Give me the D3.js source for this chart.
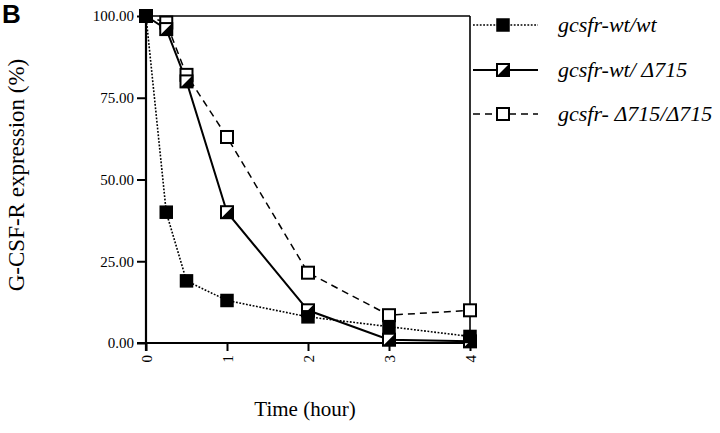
<!DOCTYPE html>
<html><head><meta charset="utf-8">
<script src="https://cdn.jsdelivr.net/npm/d3@7"></script>
<style>body{margin:0;background:#fff}svg{display:block}.serif{font-family:'Liberation Serif','Times New Roman',serif}</style>
</head><body>
<script>
const times = [0, 0.25, 0.5, 1, 2, 3, 4];
const wtwt = [100, 40, 19, 13, 8, 5, 2];
const wtD715 = [100, 96, 80, 40, 10, 1, 0.5];
const D715D715 = [100, 98, 82, 63, 21.5, 8.5, 10];
const seriesNames = ["gcsfr-wt/wt", "gcsfr-wt/ Δ715", "gcsfr- Δ715/Δ715"];
const yTicks = [0, 25, 50, 75, 100];
const xTicks = [0, 1, 2, 3, 4];

const W = 720, H = 433;
const svg = d3.select("body").append("svg").attr("width", W).attr("height", H);
const x = d3.scaleLinear().domain([0, 4]).range([146, 470]);
const y = d3.scaleLinear().domain([0, 100]).range([343, 16]);

const series = [
  {name: seriesNames[0], vals: wtwt, dash: "1.8,1.6", width: 1.6, marker: "filled"},
  {name: seriesNames[1], vals: wtD715, dash: null, width: 2, marker: "half"},
  {name: seriesNames[2], vals: D715D715, dash: "7,5", width: 1.5, marker: "open"}
];

svg.append("line").attr("x1", x(0)).attr("x2", x(4)).attr("y1", y(100)).attr("y2", y(100)).attr("stroke", "#000").attr("stroke-width", 1.6);
svg.append("line").attr("x1", x(4)).attr("x2", x(4)).attr("y1", y(100)).attr("y2", y(0)).attr("stroke", "#000").attr("stroke-width", 1.6);

const yAxis = svg.append("g").attr("transform", `translate(${x(0)},0)`)
  .call(d3.axisLeft(y).tickValues(yTicks).tickFormat(d3.format(".2f")).tickSize(9).tickPadding(3));
const xAxis = svg.append("g").attr("transform", `translate(0,${y(0)})`)
  .call(d3.axisBottom(x).tickValues(xTicks).tickFormat(d3.format("d")).tickSize(8).tickPadding(3));
[yAxis, xAxis].forEach(g => {
  g.attr("font-family", null);
  g.select(".domain").attr("stroke-width", 2.2);
  g.selectAll(".tick line").attr("stroke-width", 2);
  g.selectAll("text").attr("class", "serif").attr("font-size", 15).attr("fill", "#000");
});
yAxis.select(".domain").attr("d", `M0,${y(100)}V${y(0) + 8}`);
xAxis.select(".domain").attr("d", `M${x(0) - 9},0H${x(4)}`);
xAxis.selectAll(".tick text").attr("transform", "rotate(-90)").attr("text-anchor", "end")
  .attr("x", -12).attr("y", 0).attr("dy", "0.35em");

const line = d3.line().x((d, i) => x(times[i])).y(d => y(d));
series.forEach(s => {
  svg.append("path").attr("d", line(s.vals)).attr("fill", "none").attr("stroke", "#000")
    .attr("stroke-width", s.width).attr("stroke-dasharray", s.dash);
});

function marker(g, cx, cy, type) {
  const sz = 12, h = sz / 2;
  if (type === "filled") {
    g.append("rect").attr("x", cx - h).attr("y", cy - h).attr("width", sz).attr("height", sz).attr("fill", "#000").attr("stroke", "#000").attr("stroke-width", 1.5);
  } else {
    g.append("rect").attr("x", cx - h).attr("y", cy - h).attr("width", sz).attr("height", sz).attr("fill", "#fff").attr("stroke", "#000").attr("stroke-width", 2);
    if (type === "half") {
      g.append("path").attr("d", `M${cx - h},${cy + h}L${cx + h},${cy - h}L${cx + h},${cy + h}Z`).attr("fill", "#000");
    }
  }
}
[series[2], series[1], series[0]].forEach(s => {
  const g = svg.append("g");
  s.vals.forEach((v, i) => marker(g, x(times[i]), y(v), s.marker));
});

const legY = [25, 70, 114];
series.forEach((s, i) => {
  const ly = legY[i];
  svg.append("line").attr("x1", 473).attr("x2", 538).attr("y1", ly).attr("y2", ly).attr("stroke", "#000")
    .attr("stroke-width", s.width).attr("stroke-dasharray", s.dash);
  const g = svg.append("g");
  marker(g, 503, ly, s.marker);
  svg.append("text").attr("class", "serif").attr("x", 558).attr("y", ly).attr("dy", "0.3em").text(s.name)
    .attr("font-style", "italic").attr("font-size", 22);
});

svg.append("text").attr("class", "serif").attr("transform", `translate(24,175) rotate(-90)`).attr("text-anchor", "middle")
  .attr("font-size", 23).text("G-CSF-R expression (%)");
svg.append("text").attr("class", "serif").attr("x", 305).attr("y", 416).attr("text-anchor", "middle")
  .attr("font-size", 21).text("Time (hour)");
svg.append("text").attr("x", 2).attr("y", 23).style("font-family", "'Liberation Sans', Arial, sans-serif")
  .attr("font-weight", "bold").attr("font-size", 26).text("B");
</script>
</body></html>
